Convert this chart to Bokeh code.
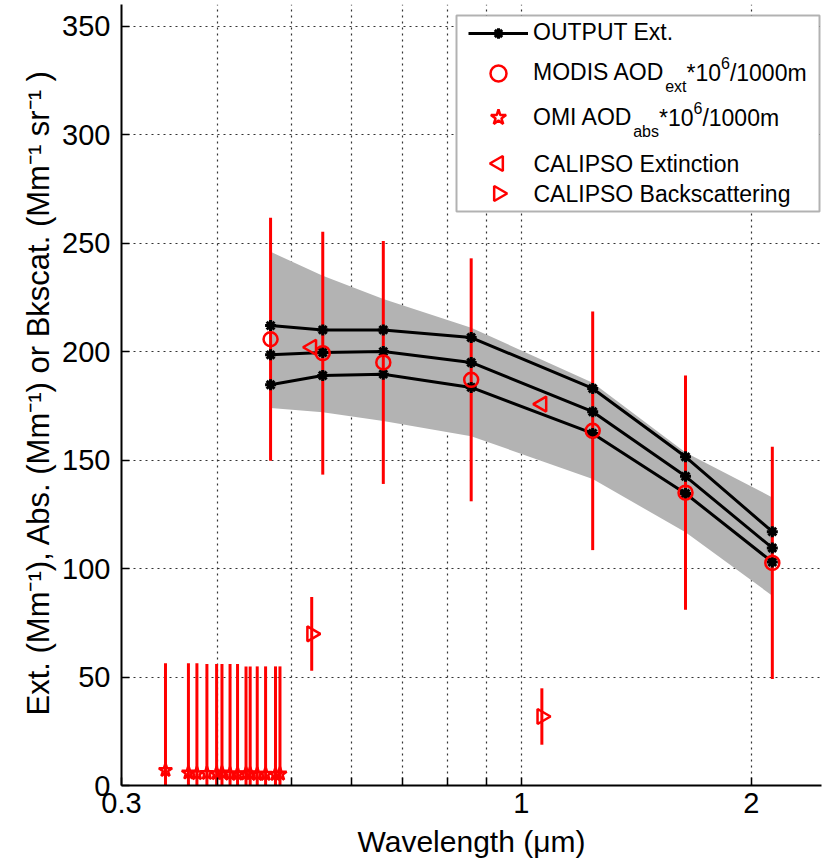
import math
from bokeh.plotting import figure
from bokeh.models import (Range1d, FixedTicker, Legend, LegendItem, Label,
                          BoxAnnotation, AllLabels, Title)
from bokeh.embed import file_html
from bokeh.resources import INLINE

# ---------------- data ----------------
wavelength = [0.47, 0.55, 0.66, 0.86, 1.24, 1.64, 2.13]
output_upper = [212.0, 210.0, 210.0, 206.5, 183.0, 151.5, 117.0]
output_mid = [198.5, 199.6, 200.0, 195.0, 172.3, 142.5, 109.5]
output_lower = [184.7, 189.0, 189.6, 183.5, 162.3, 134.6, 103.0]
band_upper = [246.0, 235.0, 224.2, 211.0, 185.7, 153.5, 132.8]
band_lower = [174.0, 172.0, 168.0, 161.0, 141.3, 116.7, 87.5]

modis_ext = [205.7, 199.3, 195.0, 187.0, 163.5, 135.0, 102.6]
modis_err = [56.0, 56.0, 56.0, 56.0, 55.0, 54.0, 53.5]

omi_wavelength = [0.3425, 0.367, 0.3765, 0.388, 0.3995, 0.406, 0.416,
                  0.4255, 0.4365, 0.442, 0.4515, 0.463, 0.477, 0.4835]
omi_abs = [7.0, 5.8, 5.5, 5.6, 5.5, 5.8, 5.3, 5.3, 5.4, 5.4, 5.2, 5.2, 5.1, 5.3]
omi_err = [49.4, 50.6, 50.9, 50.4, 50.5, 50.2, 50.7, 50.7, 49.5, 49.5, 49.7,
           49.7, 49.8, 49.6]

calipso_wavelength = [0.532, 1.064]
calipso_ext = [202.0, 175.8]
calipso_bks = [69.9, 31.8]
calipso_bks_err = [17.0, 13.0]

x_ticks = [0.3, 1, 2]
x_minor_ticks = [0.4, 0.5, 0.6, 0.7, 0.8, 0.9]
x_tick_labels = {0.3: "0.3", 1: "1", 2: "2"}
y_ticks = [0, 50, 100, 150, 200, 250, 300, 350]
x_label = "Wavelength (\u03bcm)"
y_label = ("Ext. (Mm\u207b\u00b9), Abs. (Mm\u207b\u00b9) or Bkscat. "
           "(Mm\u207b\u00b9 sr\u207b\u00b9 )")

# ---------------- layout constants ----------------
W, H = 822, 860
LEFT, RIGHT, TOP, BOTTOM = 121, 1, 4, 75
FRAME_W, FRAME_H = W - LEFT - RIGHT, H - TOP - BOTTOM
FB = H - BOTTOM          # canvas y of frame bottom
X0, X1, Y0, Y1 = 0.3, 2.47, 0, 360
FONT = "Liberation Sans"
RED = "#ff0000"
GRAY = "#b3b3b3"

p = figure(width=W, height=H, x_axis_type="log",
           x_range=Range1d(X0, X1), y_range=Range1d(Y0, Y1),
           output_backend="svg", toolbar_location=None,
           min_border_left=LEFT, min_border_right=RIGHT,
           min_border_top=TOP, min_border_bottom=BOTTOM)
p.outline_line_color = None
p.background_fill_color = "white"
p.border_fill_color = "white"

# axes
xa, ya = p.xaxis[0], p.yaxis[0]
xa.ticker = FixedTicker(ticks=x_ticks, minor_ticks=x_minor_ticks)
xa.major_label_overrides = x_tick_labels
ya.ticker = FixedTicker(ticks=y_ticks)
for ax in (xa, ya):
    ax.axis_line_color = "black"
    ax.axis_line_width = 2
    ax.major_tick_in = 8
    ax.major_tick_out = 0
    ax.major_tick_line_color = "black"
    ax.major_tick_line_width = 1.5
    ax.major_label_text_font = FONT
    ax.major_label_text_font_size = "29px"
    ax.major_label_text_color = "black"
    ax.major_label_policy = AllLabels()
    ax.axis_label_text_font = FONT
    ax.axis_label_text_font_size = "30px"
    ax.axis_label_text_font_style = "normal"
    ax.axis_label_text_color = "black"
xa.minor_tick_in = 8
xa.minor_tick_out = 0
xa.minor_tick_line_color = "black"
xa.minor_tick_line_width = 1.5
ya.minor_tick_line_color = None
xa.major_label_standoff = 7
ya.major_label_standoff = 11
xa.axis_label = x_label
xa.axis_label_standoff = 9

# y-axis label as a side title so it can sit off-centre like the reference
p.add_layout(Title(text=y_label, align="left", offset=70, standoff=8,
                   text_font=FONT, text_font_size="31px",
                   text_font_style="normal", text_color="black"), "left")

for g in (p.xgrid[0], p.ygrid[0]):
    g.grid_line_color = "#333333"
    g.grid_line_dash = "2 4"
    g.grid_line_width = 1.2
p.xgrid[0].minor_grid_line_color = "#333333"
p.xgrid[0].minor_grid_line_dash = "2 4"
p.xgrid[0].minor_grid_line_width = 1.2

# ---------------- glyphs ----------------
p.varea(x=wavelength, y1=band_lower, y2=band_upper, fill_color=GRAY)

modis_lo = [v - e for v, e in zip(modis_ext, modis_err)]
modis_hi = [v + e for v, e in zip(modis_ext, modis_err)]
p.segment(x0=wavelength, y0=modis_lo, x1=wavelength, y1=modis_hi,
          line_color=RED, line_width=3)
omi_lo = [v - e for v, e in zip(omi_abs, omi_err)]
omi_hi = [v + e for v, e in zip(omi_abs, omi_err)]
p.segment(x0=omi_wavelength, y0=omi_lo, x1=omi_wavelength, y1=omi_hi,
          line_color=RED, line_width=3)
bks_lo = [v - e for v, e in zip(calipso_bks, calipso_bks_err)]
bks_hi = [v + e for v, e in zip(calipso_bks, calipso_bks_err)]
p.segment(x0=calipso_wavelength, y0=bks_lo, x1=calipso_wavelength, y1=bks_hi,
          line_color=RED, line_width=3)

out_line = None
out_pts = None
for series in (output_upper, output_mid, output_lower):
    ln = p.line(wavelength, series, line_color="black", line_width=3)
    pt = p.scatter(wavelength, series, marker="asterisk", size=11,
                   line_color="black", line_width=3)
    if out_line is None:
        out_line, out_pts = ln, pt

modis_r = p.scatter(wavelength, modis_ext, marker="circle", size=14,
                    fill_color=None, line_color=RED, line_width=2.5)
omi_r = p.scatter(omi_wavelength, omi_abs, marker="star", size=14,
                  fill_color=None, line_color=RED, line_width=2.5)
TRI = dict(marker="triangle", size=15, fill_color=None, line_color=RED,
           line_width=2.5)
p.scatter(calipso_wavelength, calipso_ext, angle=math.pi / 2, **TRI)
p.scatter(calipso_wavelength, calipso_bks, angle=-math.pi / 2, **TRI)

# ---------------- legend ----------------
ARIAL = {' ': 278, '*': 389, '/': 278, '.': 278, 'A': 667, 'B': 667,
         'C': 722, 'D': 722, 'E': 667, 'I': 278, 'L': 556, 'M': 833,
         'O': 778, 'P': 667, 'S': 667, 'T': 611, 'U': 722, 'a': 556,
         'b': 556, 'c': 500, 'e': 556, 'g': 556, 'i': 222, 'k': 500,
         'm': 833, 'n': 556, 'o': 556, 'r': 333, 's': 500, 't': 278,
         'x': 500}


def text_width(s, size):
    return sum(ARIAL.get(ch, 556) for ch in s) * size / 1000.0


def data_x(cx):
    """canvas x (px) -> wavelength on the log axis (legend swatch only)"""
    f = (cx - LEFT) / FRAME_W
    return 10 ** (math.log10(X0) + f * (math.log10(X1) - math.log10(X0)))


def data_y(cy):
    return Y0 + (FB - cy) / FRAME_H * (Y1 - Y0)


MAIN, SMALL = 23, 16
GLYPH_X0, GLYPH_W, STANDOFF = 468, 60, 5
TEXT_X = GLYPH_X0 + GLYPH_W + STANDOFF
p.add_layout(BoxAnnotation(left=456 - LEFT, right=819 - LEFT,
                           top=FB - 15, bottom=FB - 211,
                           left_units="screen", right_units="screen",
                           top_units="screen", bottom_units="screen",
                           fill_color="white", fill_alpha=1.0,
                           line_color="black", line_width=2))

rows = [
    (33, [out_line, out_pts], 26, [("OUTPUT Ext.", 0)]),
    (72.5, [modis_r], 40, [("MODIS AOD", 0), ("ext", 1), ("*10", 0),
                           ("6", -1), ("/1000m", 0)]),
    (117, [omi_r], 40, [("OMI AOD", 0), ("abs", 1), ("*10", 0), ("6", -1),
                        ("/1000m", 0)]),
    (163, None, 0, [("CALIPSO Extinction", 0)]),
    (193, None, 0, [("CALIPSO Backscattering", 0)]),
]
for cy, rends, gh, parts in rows:
    if rends is not None:
        leg = Legend(items=[LegendItem(label=parts[0][0], renderers=rends)],
                     location=(GLYPH_X0 - LEFT, FB - cy - gh / 2),
                     padding=0, margin=0, spacing=0,
                     glyph_width=GLYPH_W, glyph_height=gh,
                     label_height=gh, label_standoff=STANDOFF,
                     border_line_color=None, background_fill_alpha=0,
                     label_text_font=FONT, label_text_font_size=f"{MAIN}px",
                     label_text_color="black")
        p.add_layout(leg)
        xpos = TEXT_X + text_width(parts[0][0], MAIN)
        rest = parts[1:]
    else:
        xpos = TEXT_X
        rest = parts
    for txt, kind in rest:
        size = MAIN if kind == 0 else SMALL
        dy = {0: 0, 1: 13.5, -1: -10}[kind]
        p.add_layout(Label(x=xpos - LEFT, y=FB - (cy + dy),
                           x_units="screen", y_units="screen", text=txt,
                           text_font=FONT, text_font_size=f"{size}px",
                           text_baseline="middle", text_align="left",
                           text_color="black"))
        xpos += text_width(txt, size)

# CALIPSO legend swatches (legend glyphs cannot be rotated in Bokeh)
gx = data_x(GLYPH_X0 + GLYPH_W / 2)
p.scatter([gx], [data_y(163)], angle=math.pi / 2, level="overlay", **TRI)
p.scatter([gx], [data_y(193)], angle=-math.pi / 2, level="overlay", **TRI)

open("out.html", "w").write(file_html(p, INLINE))
